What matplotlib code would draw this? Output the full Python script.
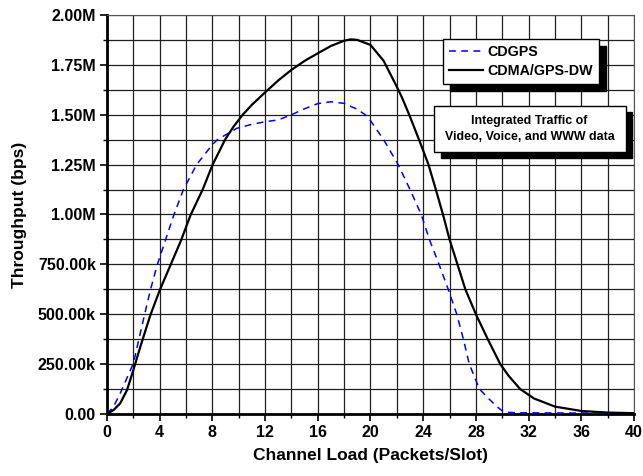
import numpy as np
import matplotlib
matplotlib.use('Agg')
import matplotlib.pyplot as plt
from matplotlib.patches import Rectangle
from matplotlib.ticker import FuncFormatter, MultipleLocator

# channel load (packets/slot) and throughput (Mbps)
x_dw = [0, 0.5, 1.0, 1.52, 2.0, 2.53, 3.29, 4.0, 4.81, 5.62, 6.33, 7.26, 8.02,
        8.96, 9.6, 10.3, 11, 12, 13, 14, 15, 16, 17, 18, 18.5, 19, 20, 21, 22,
        22.4, 23, 23.77, 24.4, 24.96, 25.5, 26.0, 26.6, 27.2, 28, 28.9, 29.85,
        30.5, 31.36, 32.4, 34, 36, 38, 40]
y_dw = [0, 0.02, 0.053, 0.12, 0.22, 0.337, 0.495, 0.62, 0.745, 0.87, 0.995,
        1.125, 1.25, 1.375, 1.44, 1.5, 1.55, 1.612, 1.672, 1.725, 1.77, 1.808,
        1.845, 1.871, 1.878, 1.875, 1.85, 1.77, 1.64, 1.585, 1.49, 1.36, 1.25,
        1.125, 1.0, 0.875, 0.75, 0.625, 0.5, 0.375, 0.25, 0.19, 0.125, 0.078,
        0.037, 0.015, 0.007, 0.004]

x_cd = [0, 0.5, 1, 2, 2.84, 3.29, 3.8, 4.43, 5.06, 5.8, 6.8, 8, 8.38, 9.85, 11,
        12, 13, 14, 15, 16, 17, 18, 19, 19.6, 20, 21, 22.1, 23, 23.85, 24.47,
        25.2, 25.9, 26.55, 27.05, 27.5, 28.27, 29, 29.6, 30.1, 31, 34, 40]
y_cd = [0, 0.037, 0.103, 0.253, 0.495, 0.62, 0.745, 0.87, 0.995, 1.125, 1.25,
        1.35, 1.375, 1.432, 1.452, 1.465, 1.474, 1.5, 1.53, 1.556, 1.565,
        1.557, 1.527, 1.5, 1.47, 1.375, 1.25, 1.125, 1.0, 0.875, 0.75, 0.625,
        0.5, 0.375, 0.25, 0.125, 0.075, 0.037, 0.01, 0.006, 0.005, 0.004]

plt.rcParams['font.family'] = 'Liberation Sans'
plt.rcParams['font.weight'] = 'bold'

fig = plt.figure(figsize=(6.43, 4.76), dpi=100)
ax = fig.add_axes([0.1664, 0.1303, 0.8196, 0.8382])

ax.plot(x_cd, np.array(y_cd) * 1e6, color='#0000ff', ls=(0, (4.5, 3.5)), lw=1.1,
        label='CDGPS', zorder=3)
ax.plot(x_dw, np.array(y_dw) * 1e6, color='black', lw=1.6,
        label='CDMA/GPS-DW', zorder=3)

ax.set_xlim(0, 40)
ax.set_ylim(0, 2e6)
ax.xaxis.set_major_locator(MultipleLocator(4))
ax.xaxis.set_minor_locator(MultipleLocator(2))
ax.yaxis.set_major_locator(MultipleLocator(250000))
ax.yaxis.set_minor_locator(MultipleLocator(125000))


def fmt(v, pos):
    if v == 0:
        return '0.00'
    if v >= 1e6:
        return '%.2fM' % (v / 1e6)
    return '%.2fk' % (v / 1e3)


ax.yaxis.set_major_formatter(FuncFormatter(fmt))
ax.grid(which='both', color='#202020', lw=0.9, zorder=0)
ax.tick_params(which='major', direction='out', length=5, width=1.2,
               labelsize=11.5, pad=3)
ax.tick_params(which='minor', direction='out', length=3, width=1.0)
for lab in ax.get_xticklabels() + ax.get_yticklabels():
    lab.set_fontweight('bold')

ax.spines['left'].set_linewidth(2)
ax.spines['bottom'].set_linewidth(2)
ax.spines['top'].set_color('#555555')
ax.spines['right'].set_color('#555555')

ax.set_xlabel('Channel Load (Packets/Slot)', fontsize=12.5, fontweight='bold',
              labelpad=6)
ax.set_ylabel('Throughput (bps)', fontsize=12.5, fontweight='bold', labelpad=8)

leg = ax.legend(loc='upper right', bbox_to_anchor=(0.934, 0.939),
                borderaxespad=0, fancybox=False, edgecolor='black',
                framealpha=1, fontsize=10.3, handlelength=2.4,
                handletextpad=0.35, borderpad=0.4, labelspacing=0.35,
                shadow={'ox': 5, 'oy': -5, 'facecolor': 'black',
                        'edgecolor': 'black', 'alpha': 1})
leg.get_frame().set_linewidth(1.0)
leg.set_zorder(5)
for t in leg.get_texts():
    t.set_fontweight('bold')

# annotation box with a hard shadow
bx, by, bw, bh = 0.620, 0.657, 0.364, 0.115
ax.add_patch(Rectangle((bx + 0.013, by - 0.015), bw, bh, transform=ax.transAxes,
                       facecolor='black', edgecolor='black', zorder=5,
                       clip_on=False))
ax.add_patch(Rectangle((bx, by), bw, bh, transform=ax.transAxes,
                       facecolor='white', edgecolor='black', lw=1.0, zorder=6,
                       clip_on=False))
ax.text(bx + bw / 2, by + bh / 2, 'Integrated Traffic of\nVideo, Voice, and WWW data',
        transform=ax.transAxes, ha='center', va='center', fontsize=8.9,
        fontweight='bold', linespacing=1.4, zorder=7)

fig.savefig('out.png', dpi=100)
